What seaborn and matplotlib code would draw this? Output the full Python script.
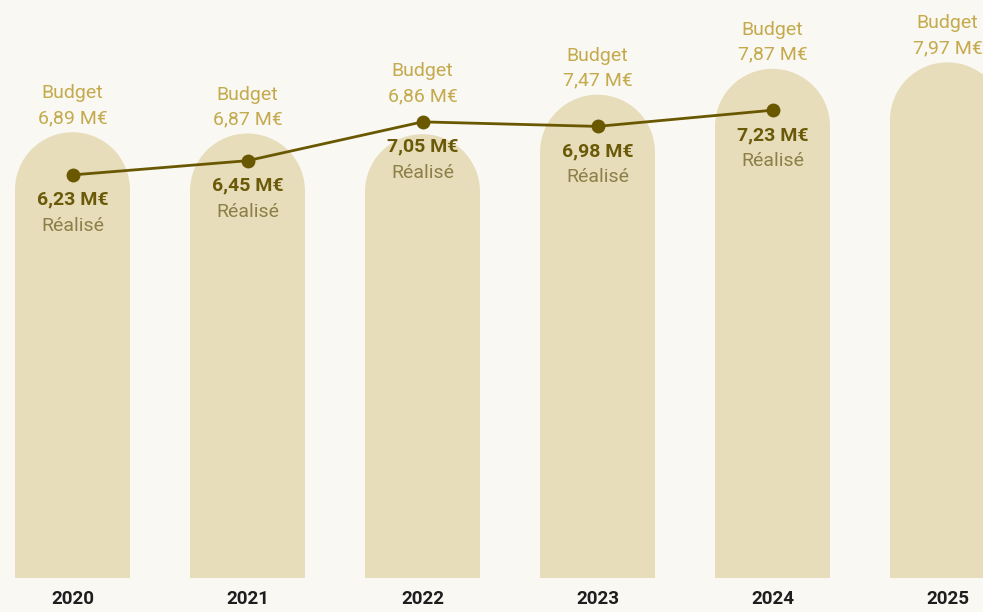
import numpy as np
import pandas as pd
import matplotlib
matplotlib.use("Agg")
import matplotlib.pyplot as plt
from matplotlib.patches import Ellipse
import seaborn as sns

# Data (M€)
years = ["2020", "2021", "2022", "2023", "2024", "2025"]
budget = [6.89, 6.87, 6.86, 7.47, 7.87, 7.97]
realise = [6.23, 6.45, 7.05, 6.98, 7.23]

BG = "#F9F8F3"
BAR = "#E7DDBB"
LINE = "#6A5800"
BUDGET_TXT = "#C4AA4C"
VALUE_TXT = "#6A5A08"
REAL_TXT = "#8C7F48"

sns.set_theme(style="white")
plt.rcParams["font.family"] = ["Roboto", "DejaVu Sans"]

W, H, DPI = 983, 612, 100
fig = plt.figure(figsize=(W / DPI, H / DPI), dpi=DPI, facecolor=BG)
ax_bottom_px = 34
ax = fig.add_axes([0, ax_bottom_px / H, 1, (H - ax_bottom_px) / H])
ax.set_facecolor(BG)

df = pd.DataFrame({"annee": years, "budget": budget})
sns.barplot(data=df, x="annee", y="budget", color=BAR, width=115 / 175,
            saturation=1, ax=ax, zorder=1)

x_lo, x_hi = -72.5 / 175, (W - 72.5) / 175
y_hi = (H - ax_bottom_px) / 64.7
ax.set_xlim(x_lo, x_hi)
ax.set_ylim(0, y_hi)

# pixels per data unit on each axis
px_x = W / (x_hi - x_lo)
px_y = (H - ax_bottom_px) / y_hi

# round the top of every bar with a half circle
for p in ax.patches[:len(years)]:
    p.set_edgecolor("none")
    x0, w, h = p.get_x(), p.get_width(), p.get_height()
    ry = (w / 2) * px_x / px_y
    p.set_height(h - ry)
    ax.add_patch(Ellipse((x0 + w / 2, h - ry), w, 2 * ry, facecolor=BAR,
                         edgecolor="none", zorder=1))

# realised spending line
idx = np.arange(len(realise))
sns.lineplot(x=idx, y=realise, color=LINE, lw=2.0, marker="o", markersize=10,
             markeredgewidth=0, ax=ax, zorder=3)

FS = 14

# labels
for i, b in enumerate(budget):
    anchor = b
    if i < len(realise):
        anchor = max(b, realise[i] + 12 / px_y)
    ax.annotate(f"{b:.2f} M€".replace(".", ","), (i, anchor), xytext=(0, 14),
                textcoords="offset pixels", ha="center", va="center",
                fontsize=FS, color=BUDGET_TXT, zorder=4)
    ax.annotate("Budget", (i, anchor), xytext=(0, 39),
                textcoords="offset pixels", ha="center", va="center",
                fontsize=FS, color=BUDGET_TXT, zorder=4)

for i, r in enumerate(realise):
    ax.annotate(f"{r:.2f} M€".replace(".", ","), (i, r), xytext=(0, -25),
                textcoords="offset pixels", ha="center", va="center",
                fontsize=FS, fontweight="bold", color=VALUE_TXT, zorder=4)
    ax.annotate("Réalisé", (i, r), xytext=(0, -51),
                textcoords="offset pixels", ha="center", va="center",
                fontsize=FS, color=REAL_TXT, zorder=4)

ax.set_xlabel("")
ax.set_ylabel("")
ax.set_yticks([])
ax.tick_params(axis="x", length=0, pad=9, labelsize=13.5)
for t in ax.get_xticklabels():
    t.set_fontweight("bold")
    t.set_color("#1E1E1E")
for s in ax.spines.values():
    s.set_visible(False)

fig.savefig("out.png", dpi=DPI, facecolor=BG)
